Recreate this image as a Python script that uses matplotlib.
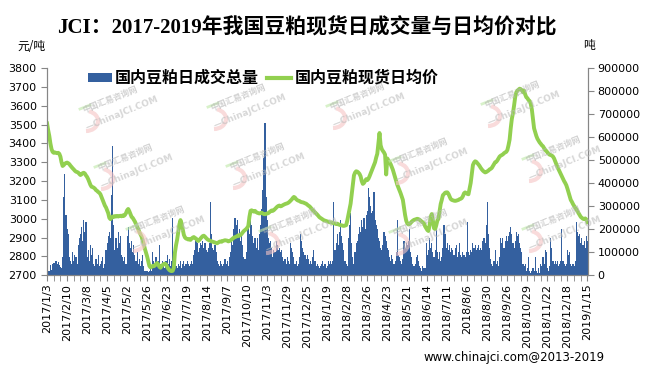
import numpy as np
import matplotlib.pyplot as plt
from matplotlib.lines import Line2D
from matplotlib.patches import Patch, Arc

# 日期标签（每18个交易日一个）
tick_labels = ['2017/1/3', '2017/2/10', '2017/3/8', '2017/4/5', '2017/5/2', '2017/5/26',
               '2017/6/23', '2017/7/19', '2017/8/14', '2017/9/7', '2017/10/10', '2017/11/3',
               '2017/11/29', '2017/12/25', '2018/1/19', '2018/2/28', '2018/3/26', '2018/4/23',
               '2018/5/21', '2018/6/14', '2018/7/11', '2018/8/6', '2018/8/30', '2018/9/26',
               '2018/10/29', '2018/11/22', '2018/12/18', '2019/1/15']

# 国内豆粕现货日均价（元/吨）
price = [
    3506, 3470, 3440, 3400, 3370, 3355, 3350, 3352, 3350, 3348, 3350, 3345, 3330, 3300, 3280, 3285, 3292, 3296,
    3298, 3295, 3290, 3282, 3275, 3268, 3262, 3255, 3250, 3248, 3245, 3238, 3232, 3236, 3242, 3244, 3240, 3230,
    3222, 3210, 3195, 3180, 3170, 3168, 3165, 3160, 3152, 3148, 3142, 3138, 3130, 3115, 3100, 3085, 3070, 3060,
    3045, 3030, 3005, 2998, 3005, 3012, 3010, 3014, 3012, 3015, 3012, 3014, 3016, 3013, 3018, 3015, 3020, 3030,
    3045, 3052, 3040, 3025, 3010, 3005, 2995, 2985, 2972, 2960, 2945, 2930, 2918, 2905, 2885, 2865, 2840, 2820,
    2800, 2775, 2750, 2742, 2745, 2750, 2748, 2752, 2760, 2765, 2758, 2745, 2740, 2748, 2755, 2760, 2762, 2758,
    2745, 2735, 2728, 2724, 2722, 2724, 2740, 2820, 2860, 2890, 2930, 2970, 2993, 2975, 2945, 2915, 2901, 2895,
    2893, 2890, 2892, 2888, 2895, 2900, 2903, 2898, 2895, 2886, 2882, 2888, 2895, 2902, 2908, 2910, 2905, 2898,
    2892, 2888, 2885, 2883, 2880, 2878, 2876, 2874, 2872, 2870, 2874, 2878, 2880, 2878, 2882, 2884, 2886, 2885,
    2884, 2880, 2882, 2885, 2890, 2895, 2900, 2902, 2905, 2908, 2912, 2910, 2914, 2920, 2928, 2935, 2940, 2945,
    2952, 2962, 3010, 3042, 3045, 3040, 3038, 3042, 3036, 3032, 3030, 3028, 3030, 3032, 3028, 3025, 3024, 3026,
    3028, 3030, 3035, 3040, 3044, 3042, 3046, 3052, 3058, 3064, 3068, 3070, 3066, 3068, 3072, 3075, 3078, 3080,
    3082, 3085, 3090, 3096, 3102, 3110, 3116, 3112, 3104, 3099, 3096, 3094, 3090, 3088, 3087, 3085, 3082, 3080,
    3075, 3070, 3066, 3060, 3052, 3045, 3040, 3034, 3028, 3022, 3015, 3008, 3004, 3000, 2996, 2992, 2990, 2988,
    2986, 2984, 2982, 2980, 2981, 2978, 2976, 2975, 2972, 2974, 2970, 2968, 2966, 2965, 2963, 2962, 2964, 2966,
    2990, 3020, 3050, 3080, 3130, 3180, 3230, 3245, 3252, 3250, 3245, 3238, 3225, 3200, 3185, 3190, 3200, 3210,
    3205, 3212, 3225, 3240, 3255, 3270, 3285, 3300, 3325, 3345, 3400, 3455, 3390, 3370, 3360, 3352, 3340, 3235,
    3320, 3310, 3300, 3290, 3275, 3260, 3240, 3222, 3200, 3180, 3165, 3150, 3135, 3118, 3100, 3060, 3020, 2990,
    2975, 2970, 2972, 2978, 2985, 2990, 2994, 2996, 2998, 3000, 2998, 2995, 2990, 2985, 2980, 2975, 2960, 2950,
    2940, 2935, 2965, 3010, 3025, 2990, 2950, 2945, 2965, 2990, 3000, 3040, 3078, 3100, 3125, 3131, 3138, 3140,
    3140, 3132, 3118, 3105, 3100, 3098, 3096, 3095, 3096, 3098, 3100, 3104, 3106, 3110, 3120, 3135, 3140, 3136,
    3132, 3130, 3160, 3190, 3240, 3285, 3298, 3305, 3302, 3295, 3288, 3280, 3270, 3262, 3255, 3250, 3246, 3248,
    3252, 3256, 3262, 3265, 3270, 3280, 3290, 3300, 3302, 3310, 3320, 3330, 3335, 3338, 3342, 3348, 3352, 3355,
    3365, 3390, 3420, 3480, 3530, 3560, 3600, 3645, 3670, 3680, 3685, 3690, 3688, 3682, 3672, 3680, 3660, 3645,
    3640, 3630, 3625, 3610, 3580, 3530, 3480, 3460, 3440, 3425, 3415, 3405, 3398, 3390, 3385, 3375, 3365, 3360,
    3352, 3345, 3340, 3338, 3335, 3330, 3320, 3305, 3290, 3275, 3262, 3250, 3238, 3225, 3212, 3200, 3190, 3178,
    3160, 3140, 3120, 3100, 3090, 3078, 3068, 3058, 3050, 3040, 3030, 3020, 3010, 3005, 3000, 2998, 3002, 2996,
    2982,
]

# 国内豆粕日成交总量（万吨）
volume = [
    1.5, 2, 1.8, 4.5, 2.2, 4.8, 5.2, 5.5, 6, 5, 5.8, 4.5, 3.8, 3.2, 8, 34, 44, 26,
    20, 18, 8, 6, 5, 10, 6, 9, 8, 5, 13, 16, 18, 21, 15, 24, 19, 23,
    8, 11, 6, 13, 9, 12, 5, 4, 7, 5, 9, 4, 5, 6, 8, 3, 5, 11,
    14, 17, 19, 16, 35, 56, 22, 11, 16, 12, 19, 14, 17, 9, 8, 6, 8, 5,
    17, 21, 14, 12, 15, 10, 13, 9, 6, 10, 5, 7, 4, 6, 9, 4, 2, 2,
    2, 1.5, 2, 3, 2, 10, 6, 4, 8, 5, 6, 13, 5, 4, 6, 5, 3, 6,
    9, 5, 7, 4, 6, 25, 5, 3, 4, 3, 5, 4, 6, 3, 5, 6, 4, 5,
    6, 5, 4, 5, 6, 5, 9, 11, 16, 14, 10, 12, 14, 13, 15, 12, 14, 11,
    10, 12, 14, 32, 18, 12, 11, 13, 10, 6, 5, 4, 6, 5, 4, 5, 7, 5,
    6, 4, 8, 10, 15, 13, 20, 25, 22, 24, 18, 20, 15, 17, 13, 8, 7, 10,
    21, 24, 18, 28, 22, 17, 14, 16, 12, 16, 11, 18, 22, 29, 37, 51, 66, 34,
    24, 16, 14, 15, 12, 8, 11, 10, 15, 13, 11, 12, 10, 11, 8, 6, 7, 5,
    8, 6, 5, 14, 12, 10, 8, 5, 6, 4, 5, 8, 18, 15, 12, 10, 9, 7,
    9, 7, 5, 6, 5, 8, 11, 6, 4, 5, 4, 3, 4, 5, 6, 4, 5, 3,
    4, 6, 5, 6, 5, 6, 32, 11, 14, 18, 13, 19, 24, 17, 14, 11, 6, 5,
    4, 16, 22, 27, 14, 8, 5, 10, 14, 15, 18, 21, 19, 24, 21, 25, 20, 26,
    28, 38, 34, 30, 27, 28, 36, 24, 22, 20, 16, 15, 12, 11, 13, 19, 17, 15,
    12, 11, 8, 6, 9, 7, 5, 6, 10, 24, 9, 8, 6, 5, 7, 15, 12, 14,
    13, 15, 20, 10, 8, 5, 4, 5, 8, 9, 6, 4, 3, 2, 4, 3, 3, 14,
    9, 11, 16, 12, 14, 10, 8, 11, 21, 10, 7, 10, 6, 8, 12, 22, 18, 12,
    14, 11, 13, 10, 12, 11, 9, 12, 13, 8, 10, 14, 9, 8, 10, 9, 8, 10,
    23, 10, 9, 11, 10, 14, 12, 13, 11, 12, 13, 11, 12, 11, 15, 16, 14, 22,
    32, 18, 12, 7, 5, 4, 6, 11, 5, 6, 4, 8, 16, 14, 16, 12, 15, 17,
    15, 17, 19, 21, 18, 14, 12, 15, 19, 17, 18, 14, 12, 10, 5, 4, 5, 2,
    3, 8, 2, 1, 2, 3, 2, 8, 2, 1, 3, 1, 5, 4, 8, 5, 11, 10,
    3, 2, 4, 16, 12, 6, 5, 6, 5, 6, 4, 5, 6, 20, 6, 5, 4, 5,
    11, 9, 10, 5, 4, 5, 4, 6, 23, 19, 17, 18, 14, 16, 13, 15, 12, 17,
    15,
]

cjk = ['Noto Sans CJK SC', 'DejaVu Sans']
gris = '#868686'
bleu = '#34609F'
vert = '#92D050'
W, H = 651, 368

fig = plt.figure(figsize=(6.51, 3.68), dpi=100)
ax = fig.add_axes([46.5 / W, 1 - 275.3 / H, (588 - 46.5) / W, (275.3 - 68) / H])

x = np.arange(len(volume))
ax.bar(x, np.array(volume) * 10000, width=1.0, color=bleu, linewidth=0)
ax.set_xlim(-0.5, len(x) - 0.5)
ax.set_ylim(0, 900000)

ax.set_xticks(np.arange(len(tick_labels)) * 18)
ax.set_xticklabels(tick_labels, rotation=90, fontsize=8)
ax.set_xticks(np.arange(0, len(x), 6), minor=True)
ax.tick_params(axis='x', which='both', direction='out', length=4, color=gris, pad=2)

ax2 = ax.twinx()
ax2.plot(x, price, color=vert, lw=2.8, solid_joinstyle='round')
ax2.set_ylim(2700, 3800)
ax2.yaxis.set_ticks_position('left')
ax2.yaxis.set_label_position('left')
ax2.set_yticks(np.arange(2700, 3801, 100))
ax2.tick_params(axis='y', direction='out', length=4, color=gris, labelsize=8, pad=3)

# 成交量坐标轴放在右侧（twinx 之后再设）
ax.yaxis.set_ticks_position('right')
ax.yaxis.set_label_position('right')
ax.set_yticks(np.arange(0, 900001, 100000))
ax.set_yticklabels([str(v) for v in range(0, 900001, 100000)])
ax.tick_params(axis='y', direction='out', length=4, color=gris, labelsize=8, pad=3)

for a in (ax, ax2):
    a.spines['top'].set_visible(False)
    for s in ('left', 'right', 'bottom'):
        a.spines[s].set_color(gris)
    a.patch.set_visible(False)

# 水印
marques = [(110, 100), (238, 98), (357, 97), (512, 95),
           (125, 158), (257, 157), (420, 152), (553, 150),
           (157, 220), (290, 222), (420, 223), (553, 220)]
for mx, my in marques:
    fig.text(mx / W, 1 - my / H, '中国汇易咨询网', family=cjk, fontsize=6, color='#b4b4b4',
             alpha=0.6, rotation=22, ha='center', va='center', fontweight='bold')
    fig.text((mx + 12) / W, 1 - (my + 13) / H, '—ChinaJCI.COM', fontsize=6.5, color='#bcbcbc',
             alpha=0.6, rotation=22, ha='center', va='center', fontweight='bold')
    fig.add_artist(Arc(((mx - 24) / W, 1 - (my + 21) / H), 24 / W, 20 / H, theta1=-90, theta2=80,
                       color='#f5c4c4', lw=3, alpha=0.6, transform=fig.transFigure))
    fig.add_artist(Line2D([(mx - 30) / W, (mx - 20) / W], [1 - (my + 9) / H, 1 - (my + 5) / H],
                          color='#bfe9a8', lw=2, alpha=0.6, transform=fig.transFigure))

# 图例
handles = [Patch(facecolor=bleu, edgecolor='none'), Line2D([], [], color=vert, lw=3)]
labels = ['国内豆粕日成交总量', '国内豆粕现货日均价']
fig.legend(handles, labels, ncol=2, loc='center left', bbox_to_anchor=(80 / W, 1 - 78 / H),
           frameon=False, handlelength=1.5, handleheight=0.45, handletextpad=0.2, columnspacing=0.5,
           borderpad=0, prop={'family': cjk, 'size': 11.5, 'weight': 'bold'})

fig.text(57 / W, 1 - 28 / H, 'JCI：2017-2019年我国豆粕现货日成交量与日均价对比',
         family=['Liberation Serif', 'Noto Sans CJK SC'], fontsize=15, fontweight='bold', va='center')
fig.text(17 / W, 1 - 46 / H, '元/吨', family=cjk, fontsize=8.5, va='center')
fig.text(583 / W, 1 - 46 / H, '吨', family=cjk, fontsize=8.5, va='center')
fig.text(423 / W, 1 - 357 / H, 'www.chinajci.com@2013-2019', fontsize=8.5, va='center')

fig.savefig('out.png', dpi=100)
